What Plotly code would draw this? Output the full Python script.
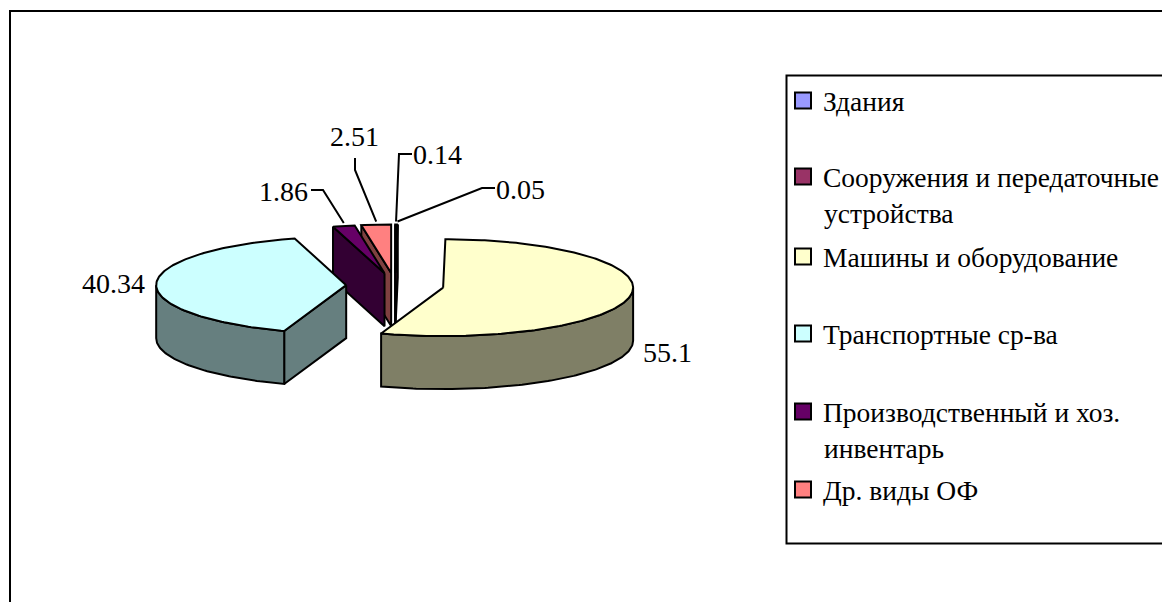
import numpy as np
import plotly.graph_objects as go

# Structure of fixed assets, per cent
categories = [
    "Здания",
    "Сооружения и передаточные<br>устройства",
    "Машины и оборудование",
    "Транспортные ср-ва",
    "Производственный и хоз.<br>инвентарь",
    "Др. виды ОФ",
]
values = [0.14, 0.05, 55.1, 40.34, 1.86, 2.51]
colors = ["#9999FF", "#993366", "#FFFFCC", "#CCFFFF", "#660066", "#FF8080"]

# Back slices are painted first so the nearer ones overlap them
paint_order = [5, 0, 1, 4, 3, 2]

WIDTH, HEIGHT = 1162, 602
FONT = "Liberation Serif"
LABEL_SIZE = 28
LEGEND_SIZE = 27.5

# Oblique projection of the exploded pie
CX, CY = 395.0, 285.5
RX, RY = 190.0, 48.5
DEPTH = 53.0
EXPLODE = 0.257

# Label anchor and leader elbow for each slice (None where no leader is drawn)
label_xy = [(437, 154), (520, 189), (667, 352), (113, 283), (283, 191), (354, 136)]
leader_start = [(412, 154), (495, 188), None, None, (311, 190), (355, 158)]
leader_elbow = [(399, 154), (482, 188), None, None, (323, 190), (355, 170)]

# Legend rows: column, top of each row, and centre of wrapped second lines
legend_x = 783
legend_y = [76, 152, 232, 309, 387, 465]
wrap_x = 822
wrap_offset = 61


def shade(hex_color):
    rgb = [int(hex_color[i:i + 2], 16) // 2 for i in (1, 3, 5)]
    return "#%02x%02x%02x" % tuple(rgb)


def polar(theta_deg, radius=1.0, origin=(CX, CY)):
    t = np.radians(theta_deg)
    return origin[0] + RX * radius * np.sin(t), origin[1] - RY * radius * np.cos(t)


def face(fig, xs, ys, color):
    fig.add_trace(go.Scatter(
        x=list(xs) + [xs[0]], y=list(ys) + [ys[0]], mode="lines", fill="toself",
        fillcolor=color, line=dict(color="black", width=2),
        hoverinfo="skip", showlegend=False,
    ))


def draw_slice(fig, start, end, color):
    mid = (start + end) / 2
    apex = polar(mid, EXPLODE)
    side = shade(color)

    # Radial faces that turn towards the viewer
    for theta, visible in ((start, np.sin(np.radians(start)) <= 1e-9),
                           (end, np.sin(np.radians(end)) > 1e-9)):
        if visible:
            px, py = polar(theta, 1.0, apex)
            face(fig, [apex[0], px, px, apex[0]],
                 [apex[1], py, py + DEPTH, apex[1] + DEPTH], side)

    # Outer wall: the stretch of rim on the near half of the ellipse
    lo, hi = max(start, 90.0), min(end, 270.0)
    if hi > lo:
        arc = np.linspace(lo, hi, int(hi - lo) + 2)
        rx, ry = polar(arc, 1.0, apex)
        face(fig, np.r_[rx, rx[::-1]], np.r_[ry, ry[::-1] + DEPTH], side)

    # Top face
    arc = np.linspace(start, end, max(int(end - start), 1) + 2)
    tx, ty = polar(arc, 1.0, apex)
    face(fig, np.r_[apex[0], tx], np.r_[apex[1], ty], color)
    return polar(mid, 1.0, apex)


fig = go.Figure()

edges = np.r_[0.0, np.cumsum(values)] / np.sum(values) * 360.0
rim_mid = {}
for i in paint_order:
    rim_mid[i] = draw_slice(fig, edges[i], edges[i + 1], colors[i])

# Leader lines from the labels to the rim of the small slices
for i in range(len(values)):
    if leader_start[i] is not None:
        x0, y0 = leader_start[i]
        x1, y1 = leader_elbow[i]
        x2, y2 = rim_mid[i]
        fig.add_trace(go.Scatter(
            x=[x0, x1, x2], y=[y0, y1, y2 - 3], mode="lines",
            line=dict(color="black", width=2), hoverinfo="skip", showlegend=False,
        ))

annotations = [
    dict(x=lx, y=ly, text=f"{v:g}", showarrow=False, xanchor="center", yanchor="middle",
         font=dict(family=FONT, size=LABEL_SIZE, color="black"))
    for v, (lx, ly) in zip(values, label_xy)
]

# One single-entry legend per category, so each row sits on its own pitch.
# A wrapped name keeps its swatch on the first line; the rest is set beneath it.
legends = {}
for i, (name, color) in enumerate(zip(categories, colors)):
    key = "legend" if i == 0 else f"legend{i + 1}"
    first, _, rest = name.partition("<br>")
    fig.add_trace(go.Scatter(
        x=[None], y=[None], mode="markers", name=first, legend=key,
        marker=dict(symbol="square", size=16, color=color, line=dict(color="black", width=2)),
    ))
    legends[key] = dict(
        x=legend_x / WIDTH, y=1 - legend_y[i] / HEIGHT, xanchor="left", yanchor="top",
        bgcolor="rgba(0,0,0,0)", borderwidth=0, itemwidth=30, itemclick=False,
        itemdoubleclick=False, font=dict(family=FONT, size=LEGEND_SIZE, color="black"),
    )
    if rest:
        annotations.append(dict(
            x=wrap_x, y=legend_y[i] + wrap_offset, text=rest, showarrow=False,
            xanchor="left", yanchor="middle",
            font=dict(family=FONT, size=LEGEND_SIZE, color="black"),
        ))

fig.update_layout(
    width=WIDTH, height=HEIGHT, autosize=False,
    margin=dict(l=0, r=0, t=0, b=0, autoexpand=False),
    paper_bgcolor="white", plot_bgcolor="white",
    xaxis=dict(range=[0, WIDTH], visible=False, fixedrange=True),
    yaxis=dict(range=[HEIGHT, 0], visible=False, fixedrange=True),
    annotations=annotations,
    shapes=[
        # Chart frame and legend box run off the right and bottom edges
        dict(type="rect", x0=10, y0=11, x1=WIDTH + 20, y1=HEIGHT + 20,
             line=dict(color="black", width=2), layer="below"),
        dict(type="rect", x0=786.5, y0=75.5, x1=WIDTH + 20, y1=543.5,
             line=dict(color="black", width=2), fillcolor="white", layer="below"),
    ],
    **legends,
)

fig.write_html("out.html", config={"displayModeBar": False})
